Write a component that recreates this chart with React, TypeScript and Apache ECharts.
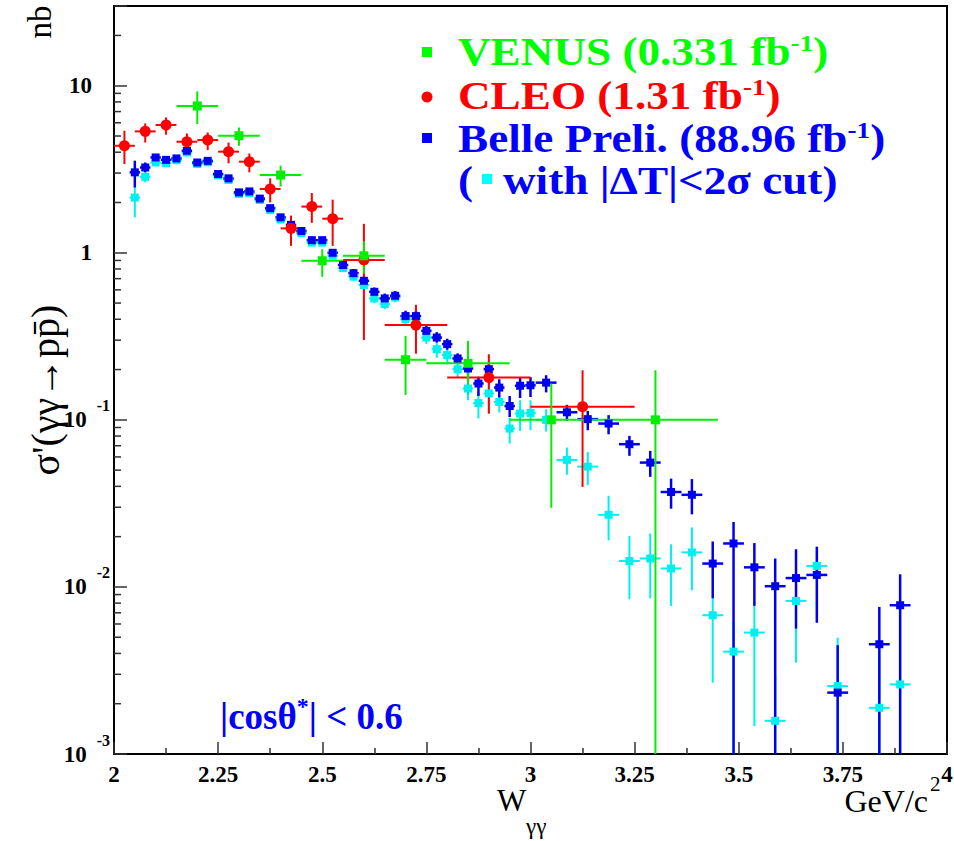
import React, { useEffect, useRef } from 'react';
import * as echarts from 'echarts';

// ---------------- data ----------------
const belleW = [2.05, 2.075, 2.1, 2.125, 2.15, 2.175, 2.2, 2.225, 2.25, 2.275, 2.3, 2.325, 2.35, 2.375, 2.4, 2.425, 2.45, 2.475, 2.5, 2.525, 2.55, 2.575, 2.6, 2.625, 2.65, 2.675, 2.7, 2.725, 2.75, 2.775, 2.8, 2.825, 2.85, 2.875, 2.9, 2.925, 2.95, 2.975, 3.0, 3.0375, 3.0875, 3.1375, 3.1875, 3.2375, 3.2875, 3.3375, 3.3875, 3.4375, 3.4875, 3.5375, 3.5875, 3.6375, 3.6875, 3.7375, 3.8375, 3.8875];
const belleHalfBin = [0.0125, 0.0125, 0.0125, 0.0125, 0.0125, 0.0125, 0.0125, 0.0125, 0.0125, 0.0125, 0.0125, 0.0125, 0.0125, 0.0125, 0.0125, 0.0125, 0.0125, 0.0125, 0.0125, 0.0125, 0.0125, 0.0125, 0.0125, 0.0125, 0.0125, 0.0125, 0.0125, 0.0125, 0.0125, 0.0125, 0.0125, 0.0125, 0.0125, 0.0125, 0.0125, 0.0125, 0.0125, 0.0125, 0.0125, 0.025, 0.025, 0.025, 0.025, 0.025, 0.025, 0.025, 0.025, 0.025, 0.025, 0.025, 0.025, 0.025, 0.025, 0.025, 0.025, 0.025];
const belleY = [3.03, 3.24, 3.72, 3.60, 3.67, 4.08, 3.47, 3.55, 2.96, 2.79, 2.30, 2.33, 2.11, 1.85, 1.63, 1.47, 1.35, 1.19, 1.19, 1.00, 0.845, 0.755, 0.68, 0.584, 0.533, 0.553, 0.418, 0.418, 0.341, 0.311, 0.284, 0.233, 0.203, 0.165, 0.201, 0.156, 0.121, 0.160, 0.161, 0.167, 0.111, 0.101, 0.095, 0.0715, 0.0555, 0.037, 0.0356, 0.0138, 0.0182, 0.0131, 0.0101, 0.0113, 0.0118, 0.00233, 0.00454, 0.00777];
const belleLo = [2.46, 3.03, 3.44, 3.46, 3.53, 3.93, 3.35, 3.43, 2.86, 2.69, 2.22, 2.25, 2.03, 1.78, 1.57, 1.41, 1.29, 1.14, 1.14, 0.95, 0.80, 0.715, 0.64, 0.55, 0.50, 0.52, 0.39, 0.39, 0.318, 0.29, 0.263, 0.217, 0.187, 0.139, 0.184, 0.136, 0.104, 0.135, 0.137, 0.146, 0.0986, 0.0867, 0.082, 0.0609, 0.0456, 0.0294, 0.0272, 0.00855, 0.0005, 0.0077, 0.0005, 0.00563, 0.0061, 0.0005, 0.0005, 0.0005];
const belleHi = [3.56, 3.47, 3.90, 3.76, 3.81, 4.23, 3.60, 3.68, 3.07, 2.89, 2.39, 2.42, 2.19, 1.92, 1.69, 1.53, 1.41, 1.24, 1.24, 1.05, 0.89, 0.80, 0.72, 0.62, 0.57, 0.59, 0.45, 0.45, 0.366, 0.335, 0.306, 0.25, 0.22, 0.181, 0.22, 0.175, 0.139, 0.18, 0.18, 0.185, 0.123, 0.113, 0.1067, 0.0802, 0.0652, 0.0445, 0.0442, 0.0187, 0.0245, 0.0183, 0.0148, 0.0168, 0.0174, 0.00448, 0.00759, 0.0119];

const cutY = [2.14, 2.85, 3.47, 3.44, 3.58, 3.98, 3.40, 3.48, 2.90, 2.73, 2.25, 2.28, 2.07, 1.80, 1.58, 1.42, 1.31, 1.15, 1.15, 0.96, 0.81, 0.72, 0.641, 0.533, 0.493, 0.54, 0.40, 0.40, 0.311, 0.265, 0.244, 0.201, 0.154, 0.126, 0.144, 0.128, 0.0887, 0.109, 0.110, 0.100, 0.0576, 0.0525, 0.0270, 0.0143, 0.0148, 0.0129, 0.0161, 0.00677, 0.0041, 0.00533, 0.00158, 0.00825, 0.01336, 0.00255, 0.00189, 0.00261];
const cutLo = [1.63, 2.64, 3.33, 3.30, 3.44, 3.82, 3.26, 3.34, 2.78, 2.62, 2.16, 2.19, 1.99, 1.73, 1.51, 1.36, 1.25, 1.10, 1.10, 0.92, 0.77, 0.68, 0.61, 0.50, 0.46, 0.505, 0.37, 0.37, 0.285, 0.235, 0.215, 0.18, 0.131, 0.102, 0.109, 0.1106, 0.0721, 0.0859, 0.0868, 0.0851, 0.0469, 0.0406, 0.019, 0.00844, 0.00855, 0.0077, 0.00955, 0.00267, 0.0005, 0.00147, 0.0005, 0.00352, 0.0062, 0.0005, 0.0005, 0.0005];
const cutHi = [2.52, 3.03, 3.62, 3.58, 3.72, 4.14, 3.54, 3.62, 3.02, 2.84, 2.34, 2.37, 2.15, 1.87, 1.65, 1.48, 1.37, 1.20, 1.20, 1.00, 0.85, 0.76, 0.68, 0.565, 0.525, 0.575, 0.43, 0.43, 0.335, 0.29, 0.27, 0.22, 0.171, 0.146, 0.167, 0.1425, 0.103, 0.131, 0.131, 0.1157, 0.0683, 0.0643, 0.0351, 0.0202, 0.0209, 0.018, 0.0227, 0.00863, 0.0062, 0.0077, 0.003, 0.0114, 0.0174, 0.00497, 0.0045, 0.0075];

const cleoW = [2.025, 2.075, 2.125, 2.175, 2.225, 2.275, 2.325, 2.375, 2.425, 2.475, 2.525, 2.6, 2.725, 2.9, 3.125];
const cleoHalfBin = [0.025, 0.025, 0.025, 0.025, 0.025, 0.025, 0.025, 0.025, 0.025, 0.025, 0.025, 0.05, 0.075, 0.1, 0.125];
const cleoY = [4.37, 5.33, 5.82, 4.62, 4.73, 4.03, 3.51, 2.41, 1.40, 1.89, 1.60, 0.904, 0.369, 0.179, 0.120];
const cleoLo = [3.40, 4.57, 5.09, 4.08, 4.12, 3.43, 3.03, 2.0, 1.10, 1.51, 1.10, 0.30, 0.249, 0.109, 0.0397];
const cleoHi = [5.38, 5.95, 6.46, 5.18, 5.25, 4.57, 3.93, 2.79, 1.67, 2.28, 2.08, 1.49, 0.488, 0.247, 0.198];

const venusW = [2.2, 2.3, 2.4, 2.5, 2.6, 2.7, 2.85, 3.05, 3.3];
const venusHalfBin = [0.05, 0.05, 0.05, 0.05, 0.05, 0.05, 0.1, 0.1, 0.15];
const venusY = [7.56, 5.02, 2.92, 0.896, 0.959, 0.229, 0.218, 0.1, 0.1];
const venusLo = [5.90, 4.37, 2.49, 0.718, 0.752, 0.141, 0.1426, 0.0298, 0.0005];
const venusHi = [9.25, 5.62, 3.32, 1.05, 1.17, 0.318, 0.297, 0.165, 0.198];

const yMinorTicks = [0.002, 0.003, 0.004, 0.005, 0.006, 0.007, 0.008, 0.009, 0.02, 0.03, 0.04, 0.05, 0.06, 0.07, 0.08, 0.09, 0.2, 0.3, 0.4, 0.5, 0.6, 0.7, 0.8, 0.9, 2, 3, 4, 5, 6, 7, 8, 9, 20];

// ---------------- styles ----------------
const SERIF = '"Liberation Serif", "Times New Roman", serif';
const C_BLUE = '#0000ee';
const C_CYAN = '#00f0f0';
const C_RED = '#ff0000';
const C_GREEN = '#00ee00';
const LEG = 40;
const LEG_SX = 1.13;

function errorBars(xs: number[], half: number[], ys: number[], lo: number[], hi: number[], color: string, width: number) {
  return {
    type: 'custom',
    clip: true,
    silent: true,
    data: xs.map((x, i) => [x, ys[i], lo[i], hi[i], half[i]]),
    encode: { x: 0, y: 1 },
    renderItem: (_params: any, api: any) => {
      const x = api.value(0);
      const y = api.value(1);
      const l = api.value(2);
      const h = api.value(3);
      const hw = api.value(4);
      const pLo = api.coord([x, l]);
      const pHi = api.coord([x, h]);
      const pL = api.coord([x - hw, y]);
      const pR = api.coord([x + hw, y]);
      return {
        type: 'group',
        children: [
          { type: 'line', shape: { x1: pLo[0], y1: pLo[1], x2: pHi[0], y2: pHi[1] }, style: { stroke: color, lineWidth: width } },
          { type: 'line', shape: { x1: pL[0], y1: pL[1], x2: pR[0], y2: pR[1] }, style: { stroke: color, lineWidth: width } },
        ],
      };
    },
  };
}

function markers(xs: number[], ys: number[], symbol: string, size: number, color: string) {
  return {
    type: 'scatter',
    silent: true,
    symbol,
    symbolSize: size,
    itemStyle: { color, opacity: 1 },
    data: xs.map((x, i) => [x, ys[i]]),
  };
}

const legendText = (txt: string, color: string) => ({
  text: `{t|${txt}}{s|-1}{t|)}`,
  rich: {
    t: { fontFamily: SERIF, fontWeight: 'bold', fontSize: LEG, lineHeight: 40, fill: color },
    s: { fontFamily: SERIF, fontWeight: 'bold', fontSize: 24, lineHeight: 20, fill: color, verticalAlign: 'top' },
  },
});

export default function App() {
  const ref = useRef<HTMLDivElement>(null);
  useEffect(() => {
    document.body.style.margin = '0';
    if (!ref.current) return;
    const chart = echarts.init(ref.current, null, { renderer: 'svg' });
    const option: any = {
      animation: false,
      backgroundColor: '#ffffff',
      grid: {
        left: 114, right: 7, top: 6, bottom: 87,
        show: true, borderColor: '#000', borderWidth: 2, backgroundColor: 'transparent',
        containLabel: false, outerBoundsMode: 'none',
      },
      xAxis: {
        type: 'value', min: 2, max: 4, interval: 0.25,
        axisLine: { show: true, onZero: false, lineStyle: { color: '#000', width: 2 } },
        axisTick: { show: true, inside: true, length: 12, lineStyle: { color: '#333', width: 1.5 } },
        minorTick: { show: true, splitNumber: 2, length: 6, lineStyle: { color: '#333', width: 1.5 } },
        splitLine: { show: false },
        minorSplitLine: { show: false },
        axisLabel: { color: '#000', fontFamily: SERIF, fontWeight: 'bold', fontSize: 23, margin: 9, showMinLabel: true, showMaxLabel: true },
      },
      yAxis: {
        type: 'log', logBase: 10, min: 0.001, max: 30,
        axisLine: { show: true, onZero: false, lineStyle: { color: '#000', width: 2 } },
        axisTick: { show: true, inside: true, length: 13, lineStyle: { color: '#333', width: 1.5 } },
        splitLine: { show: false },
        axisLabel: {
          margin: 4,
          formatter: (v: number) => {
            const l = Math.log10(v);
            const e = Math.round(l);
            if (Math.abs(l - e) > 1e-6) return '';
            if (e === 0) return '{b|1}';
            if (e === 1) return '{b|10}';
            return `{c|10}{s|${e}}`;
          },
          rich: {
            b: { fontFamily: SERIF, fontWeight: 'bold', fontSize: 23, color: '#000', padding: [0, 18, 0, 0] },
            c: { fontFamily: SERIF, fontWeight: 'bold', fontSize: 23, color: '#000' },
            s: { fontFamily: SERIF, fontWeight: 'bold', fontSize: 16, color: '#000', padding: [0, 0, 28, 10] },
          },
        },
      },
      series: [
        {
          type: 'custom', silent: true, clip: false,
          data: yMinorTicks.map((v) => [2, v]),
          encode: { x: 0, y: 1 },
          renderItem: (_p: any, api: any) => {
            const p = api.coord([api.value(0), api.value(1)]);
            return { type: 'line', shape: { x1: p[0], y1: p[1], x2: p[0] + 7, y2: p[1] }, style: { stroke: '#333', lineWidth: 1.5 } };
          },
        },
        errorBars(belleW, belleHalfBin, cutY, cutLo, cutHi, C_CYAN, 2),
        errorBars(belleW, belleHalfBin, belleY, belleLo, belleHi, C_BLUE, 2.5),
        errorBars(cleoW, cleoHalfBin, cleoY, cleoLo, cleoHi, C_RED, 2),
        errorBars(venusW, venusHalfBin, venusY, venusLo, venusHi, C_GREEN, 2),
        markers(belleW, cutY, 'rect', 8, C_CYAN),
        markers(belleW, belleY, 'rect', 8, C_BLUE),
        markers(cleoW, cleoY, 'circle', 11, C_RED),
        markers(venusW, venusY, 'rect', 9, C_GREEN),
      ],
      graphic: [
        // legend
        { type: 'rect', shape: { x: 422, y: 47, width: 10, height: 10 }, style: { fill: '#00ff00' } },
        { type: 'text', x: 458, y: 51, scaleX: LEG_SX, style: { ...legendText('VENUS (0.331 fb', '#00ff00'), verticalAlign: 'middle', textVerticalAlign: 'middle' } },
        { type: 'circle', shape: { cx: 427, cy: 97, r: 5.5 }, style: { fill: '#ff0000' } },
        { type: 'text', x: 458, y: 95, scaleX: LEG_SX, style: { ...legendText('CLEO (1.31 fb', '#ff0000'), verticalAlign: 'middle', textVerticalAlign: 'middle' } },
        { type: 'rect', shape: { x: 422, y: 133, width: 10, height: 10 }, style: { fill: '#0000ff' } },
        { type: 'text', x: 458, y: 138, scaleX: LEG_SX, style: { ...legendText('Belle Preli. (88.96 fb', '#0000ff'), verticalAlign: 'middle', textVerticalAlign: 'middle' } },
        { type: 'text', x: 458, y: 180, scaleX: LEG_SX, style: { text: '(', fontFamily: SERIF, fontWeight: 'bold', fontSize: LEG, fill: '#0000ff', verticalAlign: 'middle', textVerticalAlign: 'middle' } },
        { type: 'rect', shape: { x: 482, y: 174, width: 10, height: 10 }, style: { fill: '#00ffff' } },
        { type: 'text', x: 503, y: 180, scaleX: LEG_SX, style: { text: 'with |\u0394T|<2\u03c3 cut)', fontFamily: SERIF, fontWeight: 'bold', fontSize: LEG, fill: '#0000ff', verticalAlign: 'middle', textVerticalAlign: 'middle' } },
        // cut annotation
        {
          type: 'text', x: 220, y: 716,
          style: {
            text: '{t||cos\u03b8}{s|*}{t|| < 0.6}',
            rich: {
              t: { fontFamily: SERIF, fontWeight: 'bold', fontSize: 37, lineHeight: 44, fill: '#0000ff' },
              s: { fontFamily: SERIF, fontWeight: 'bold', fontSize: 24, lineHeight: 20, fill: '#0000ff', verticalAlign: 'top' },
            },
            verticalAlign: 'middle', textVerticalAlign: 'middle',
          },
        },
        // axis titles
        { type: 'text', x: 40, y: 22, rotation: Math.PI / 2, style: { text: 'nb', fontFamily: SERIF, fontSize: 33, fill: '#000', align: 'center', textAlign: 'center', verticalAlign: 'middle', textVerticalAlign: 'middle' } },
        { type: 'text', x: 45, y: 390, rotation: Math.PI / 2, style: { text: "\u03c3'(\u03b3\u03b3\u2192pp\u0304)", fontFamily: SERIF, fontSize: 40, fill: '#000', align: 'center', textAlign: 'center', verticalAlign: 'middle', textVerticalAlign: 'middle' } },
        { type: 'text', x: 497, y: 800, style: { text: 'W', fontFamily: SERIF, fontSize: 31, fill: '#000', verticalAlign: 'middle', textVerticalAlign: 'middle' } },
        { type: 'text', x: 526, y: 826, style: { text: '\u03b3\u03b3', fontFamily: SERIF, fontSize: 23, fill: '#000', verticalAlign: 'middle', textVerticalAlign: 'middle' } },
        { type: 'text', x: 928, y: 801, style: { text: 'GeV/c', fontFamily: SERIF, fontSize: 32, fill: '#000', align: 'right', textAlign: 'right', verticalAlign: 'middle', textVerticalAlign: 'middle' } },
        { type: 'text', x: 930, y: 784, style: { text: '2', fontFamily: SERIF, fontSize: 21, fill: '#000', verticalAlign: 'middle', textVerticalAlign: 'middle' } },
      ],
    };
    chart.setOption(option);
    return () => chart.dispose();
  }, []);
  return <div ref={ref} style={{ width: 954, height: 841 }} />;
}
